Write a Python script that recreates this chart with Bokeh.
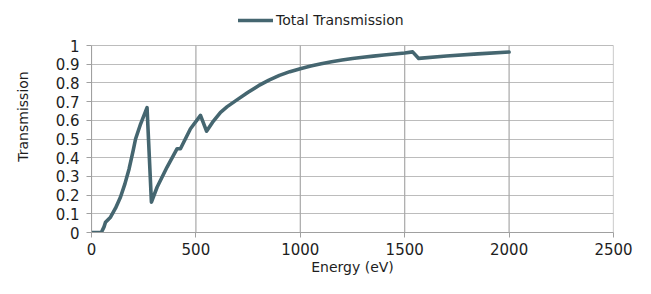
from bokeh.plotting import figure
from bokeh.models import ColumnDataSource, FixedTicker, Legend, LegendItem, Range1d
from bokeh.embed import file_html
from bokeh.resources import INLINE

energy = [0, 47, 60, 67, 91, 115, 139, 160, 180, 200, 211, 235, 266, 287, 314, 362, 410, 426,
          474, 522, 551, 580, 618, 650, 700, 750, 800, 850, 900, 950, 1000, 1050, 1100, 1150,
          1200, 1250, 1300, 1350, 1400, 1450, 1500, 1538, 1567, 1700, 1850, 2000]
transmission = [0, 0, 0.03, 0.055, 0.082, 0.13, 0.19, 0.26, 0.34, 0.44, 0.5, 0.58, 0.668,
                0.162, 0.242, 0.35, 0.448, 0.448, 0.555, 0.626, 0.542, 0.59, 0.643, 0.673,
                0.712, 0.75, 0.785, 0.815, 0.84, 0.86, 0.876, 0.89, 0.902, 0.913, 0.922, 0.93,
                0.937, 0.943, 0.949, 0.955, 0.96, 0.966, 0.931, 0.944, 0.955, 0.965]
x_ticks = [0, 500, 1000, 1500, 2000, 2500]
y_ticks = [0, 0.1, 0.2, 0.3, 0.4, 0.5, 0.6, 0.7, 0.8, 0.9, 1]
series_name = "Total Transmission"

FONT = "DejaVu Sans"
LINE = "#456670"
GRID_H = "#bcbcbc"
GRID_V = "#a8a8a8"
TXT = "#1e1e1e"

y_top = 1.0 * 232 / 187  # extra headroom in the frame for the legend

p = figure(width=635, height=278, output_backend="svg", toolbar_location=None,
           x_range=Range1d(0, 2500), y_range=Range1d(0, y_top),
           min_border_left=91, min_border_right=22, min_border_top=0, min_border_bottom=46)
p.outline_line_color = None
p.xgrid.visible = False

p.ygrid.ticker = FixedTicker(ticks=y_ticks)
p.ygrid.grid_line_color = GRID_H
p.ygrid.grid_line_width = 1.2

# vertical grid lines limited to the data area (0..1)
p.segment(x0=x_ticks, y0=[y_ticks[0]] * len(x_ticks), x1=x_ticks, y1=[y_ticks[-1]] * len(x_ticks),
          line_color=GRID_V, line_width=1.2)

src = ColumnDataSource(dict(x=energy, y=transmission))
r = p.line("x", "y", source=src, line_color=LINE, line_width=3.6, line_join="round", line_cap="round")

p.xaxis.ticker = FixedTicker(ticks=x_ticks)
p.yaxis.ticker = FixedTicker(ticks=y_ticks)
p.yaxis.bounds = (y_ticks[0], y_ticks[-1])
p.yaxis.major_label_overrides = {t: ("%g" % t) for t in y_ticks}
p.xaxis.axis_label = "Energy (eV)"
p.yaxis.axis_label = "Transmission"
for ax in (p.xaxis[0], p.yaxis[0]):
    ax.axis_line_color = "#a0a0a0"
    ax.major_tick_line_color = "#a0a0a0"
    ax.major_tick_out = 5
    ax.major_tick_in = 0
    ax.minor_tick_line_color = None
    ax.major_label_text_font = FONT
    ax.major_label_text_font_size = "15px"
    ax.major_label_text_color = TXT
    ax.axis_label_text_font = FONT
    ax.axis_label_text_font_size = "14px"
    ax.axis_label_text_font_style = "normal"
    ax.axis_label_text_color = TXT
p.xaxis.major_label_standoff = 5
p.yaxis.major_label_standoff = 7
p.xaxis.axis_label_standoff = 1
p.yaxis.axis_label_standoff = 22

legend = Legend(items=[LegendItem(label=series_name, renderers=[r])],
                location=(147, 204), orientation="horizontal",
                glyph_width=35, glyph_height=16, label_standoff=3, padding=2, margin=0,
                border_line_color=None, background_fill_alpha=0,
                label_text_font=FONT, label_text_font_size="14px", label_text_color=TXT)
p.add_layout(legend, "center")

open("out.html", "w").write(file_html(p, INLINE))
